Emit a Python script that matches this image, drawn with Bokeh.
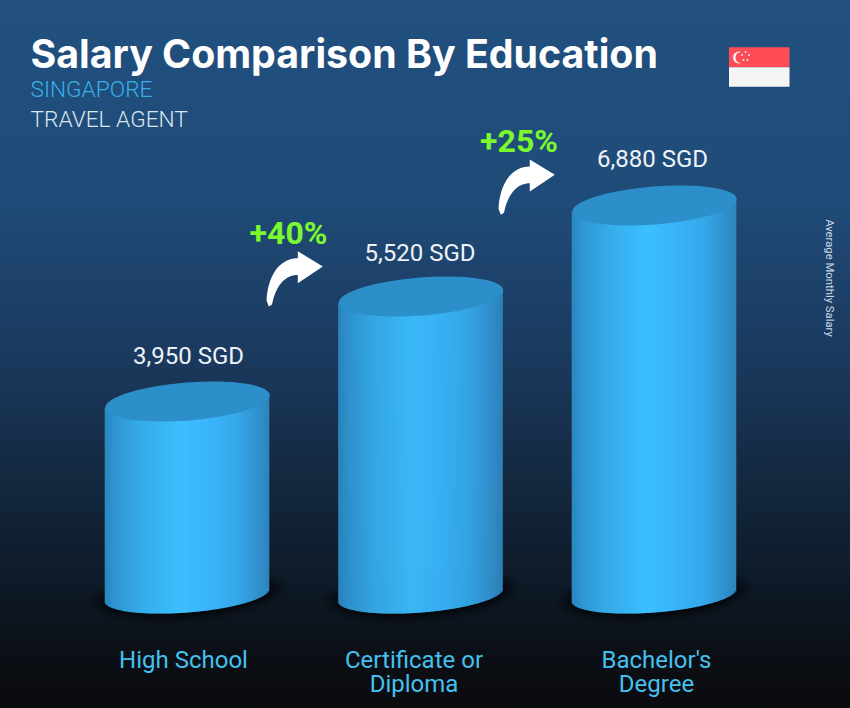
from math import pi

import numpy as np
from bokeh.core.properties import value
from bokeh.embed import file_html
from bokeh.models import ColumnDataSource, Range1d
from bokeh.plotting import figure
from bokeh.resources import INLINE

title = "Salary Comparison By Education"
country = "SINGAPORE"
job = "TRAVEL AGENT"
side_note = "Average Monthly Salary"

categories = ["High School", "Certificate or\nDiploma", "Bachelor's\nDegree"]
salaries = [3950, 5520, 6880]
currency = "SGD"
growth_labels = ["+40%", "+25%"]

positions = [0, 1, 2]
floor_level = 1058

# picture scale
W, H = 850, 708
px_per_pos = 233.5
px_per_sgd = 0.0669
first_bar_px = 187
top_bar_py = 205


def sx(px):
    return (np.asarray(px, dtype=float) - first_bar_px) / px_per_pos


def sy(py):
    return max(salaries) - (np.asarray(py, dtype=float) - top_bar_py) / px_per_sgd


def text(px, py, s, color, size, font="Roboto", style="normal", align="left", angle=0):
    p.text(x=[float(sx(px))], y=[float(sy(py))], text=[s], text_color=color, text_font_size=size,
           text_font=value(font), text_font_style=style, text_align=align, text_baseline="middle", angle=angle)


def curve(p0, p1, p2, p3, n=24):
    t = np.linspace(0, 1, n)[:, None]
    pts = [np.array(q, dtype=float) for q in (p0, p1, p2, p3)]
    return (1 - t) ** 3 * pts[0] + 3 * (1 - t) ** 2 * t * pts[1] + 3 * (1 - t) * t ** 2 * pts[2] + t ** 3 * pts[3]


p = figure(width=W, height=H, output_backend="svg", toolbar_location=None,
           x_range=Range1d(float(sx(0)), float(sx(W))), y_range=Range1d(float(sy(H)), float(sy(0))),
           min_border=0)
p.axis.visible = False
p.grid.visible = False
p.outline_line_color = None
p.background_fill_alpha = 0
p.border_fill_alpha = 0
p.styles = {"background": "linear-gradient(180deg, #21507f 0%, #1f4b78 28%, #1b3a5f 50%, #14283f 68%, "
                          "#0e1a28 82%, #0b0f15 93%, #0b0b0e 100%)"}

# cylinder outline, in pixels
semi_a, semi_b, semi_b_low, tilt = 82.5, 19.0, 17.5, 0.079
t = np.linspace(pi, 2 * pi, 200)
arc_x = semi_a * np.cos(t) * np.cos(tilt) - semi_b_low * np.sin(t) * np.sin(tilt)
arc_y = semi_a * np.cos(t) * np.sin(tilt) + semi_b_low * np.sin(t) * np.cos(tilt)
order = np.argsort(arc_x)
arc_x, arc_y = arc_x[order], arc_y[order]

dx = np.arange(-82, 82, 1.0)
frac = (dx + 82) / 164
stops = [0, 0.06, 0.2, 0.45, 0.62, 0.8, 0.93, 1]
reds = np.interp(frac, stops, [0x2b, 0x2f, 0x36, 0x3d, 0x3a, 0x36, 0x32, 0x2e])
greens = np.interp(frac, stops, [0x88, 0x96, 0xaa, 0xbf, 0xb6, 0xa8, 0x92, 0x84])
blues = np.interp(frac, stops, [0xbf, 0xd2, 0xe8, 0xff, 0xfc, 0xea, 0xcf, 0xbc])
strip_colors = ["#%02x%02x%02x" % (int(r), int(g), int(b)) for r, g, b in zip(reds, greens, blues)]

# contact shadows
for grow, alpha in zip([34, 27, 20, 14, 8, 2], [0.12, 0.14, 0.16, 0.2, 0.24, 0.3]):
    p.ellipse(x=positions, y=[floor_level] * 3, width=164 + grow, height=38 + grow * 0.5, angle=tilt,
              width_units="screen", height_units="screen", fill_color="#05070a", fill_alpha=alpha, line_color=None)

for pos, salary in zip(positions, salaries):
    lefts = pos + (dx - 0.8) / px_per_pos
    rights = pos + (dx + 0.8) / px_per_pos
    tops = salary + dx * np.tan(tilt) / px_per_sgd
    bottoms = floor_level + np.interp(dx + 0.5, arc_x, arc_y) / px_per_sgd
    strips = ColumnDataSource(dict(left=lefts, right=rights, top=tops, bottom=bottoms, color=strip_colors))
    p.quad(left="left", right="right", top="top", bottom="bottom", fill_color="color", line_color=None, source=strips)

p.ellipse(x=positions, y=salaries, width=semi_a * 2, height=semi_b * 2, angle=tilt,
          width_units="screen", height_units="screen", fill_color="#2d8fc9", line_color=None)

p.text(x=positions, y=salaries, text=[f"{s:,} {currency}" for s in salaries], x_offset=[1, -1, -2],
       y_offset=[-46, -43, -47], text_color="#eef3f7", text_font=value("Roboto"), text_font_size="24px",
       text_align="center", text_baseline="middle")

p.text(x=positions, y=[floor_level] * 3, text=categories, x_offset=[-4, -7, 2], y_offset=[65, 77, 77],
       text_color="#45c0ee", text_font=value("Roboto"), text_font_size="24px",
       text_align="center", text_baseline="middle", text_line_height=0.86)

# heading
text(30, 52.5, title, "#ffffff", "39.3px", font="Inter", style="bold")
text(30, 88.5, country, "#36b0e8", "22.7px", font="Roboto Light")
text(30, 119, job, "#dbe6ef", "22.7px", font="Roboto Light")
text(829, 277.5, side_note, "#cfdae5", "11.3px", align="center", angle=-pi / 2)

# growth arrows
for (shift_x, shift_y), label_x, label in zip([(0, 0), (232, -91.7)], [288, 518.5], growth_labels):
    upper = curve((266, 300), (267, 278), (277, 258), (297.3, 257.7))
    lower = curve((297.3, 274.5), (284, 274.5), (275, 286), (271.5, 304))
    outline = np.vstack([upper, [(297.3, 250.7), (322.3, 266), (297.3, 282.7)], lower, [(268.3, 306)]])
    p.patch(x=sx(outline[:, 0] + shift_x), y=sy(outline[:, 1] + shift_y), fill_color="#ffffff", line_color=None)
    text(label_x, 232 + shift_y, label, "#7bf82e", "32px", style="bold", align="center")

# flag
p.quad(left=[sx(728.5)] * 2, right=[sx(789)] * 2, top=[sy(46.7), sy(66.7)], bottom=[sy(66.7), sy(86.3)],
       fill_color=["#ff4b55", "#f5f5f5"], line_color=None)
p.scatter(x=[sx(738.5)], y=[sy(57)], size=12, fill_color="#f5f5f5", line_color=None)
p.scatter(x=[sx(740.5)], y=[sy(57)], size=11, fill_color="#ff4b55", line_color=None)
p.scatter(x=sx([745, 741.5, 748.5, 743, 747]), y=sy([51.5, 54.5, 54.5, 59.5, 59.5]), size=1.8,
          fill_color="#f5f5f5", line_color=None)

open("out.html", "w").write(file_html(p, INLINE))
